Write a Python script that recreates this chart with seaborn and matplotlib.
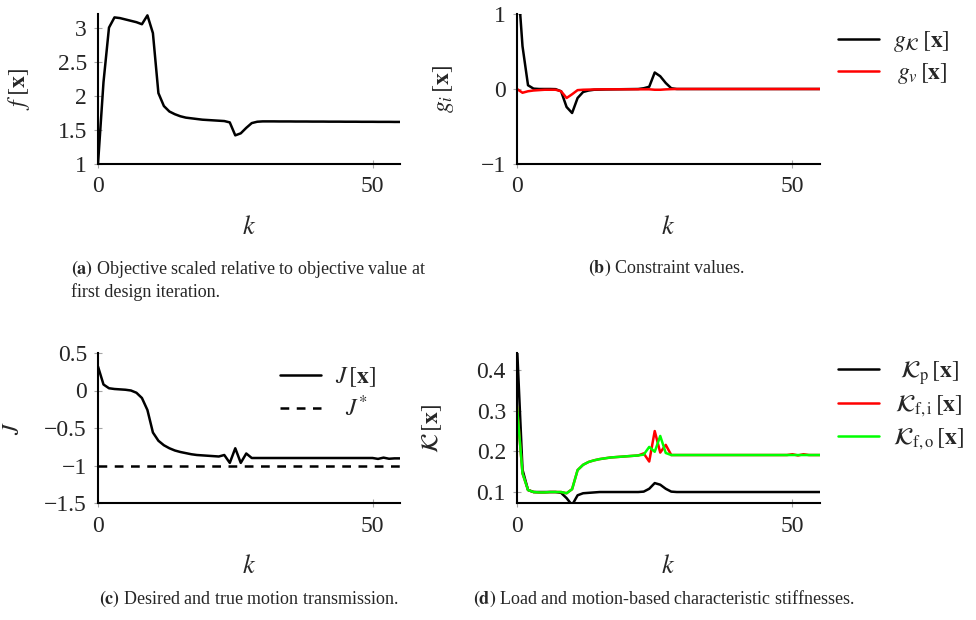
import matplotlib
matplotlib.use("Agg")
import matplotlib.pyplot as plt
import seaborn as sns
from matplotlib.ticker import FuncFormatter

# design iteration
K_ITER = list(range(56))

# (a) scaled objective
F_OBJ = [1.0, 2.2, 3.0, 3.15, 3.14, 3.12, 3.10, 3.08, 3.05, 3.18,
         2.92, 2.04, 1.85, 1.77, 1.73, 1.70, 1.68, 1.67, 1.66, 1.65,
         1.645, 1.64, 1.635, 1.63, 1.61, 1.42, 1.45, 1.53, 1.60, 1.62,
         1.625, 1.625, 1.625, 1.624, 1.624, 1.624, 1.623, 1.623, 1.623, 1.622,
         1.622, 1.622, 1.621, 1.621, 1.621, 1.620, 1.620, 1.620, 1.619, 1.619,
         1.619, 1.618, 1.618, 1.618, 1.617, 1.617]

# (b) constraints
G_K = [1.6, 0.57, 0.05, 0.005, 0.0, 0.0, 0.0, -0.002, -0.03, -0.24,
       -0.32, -0.12, -0.04, -0.02, -0.01, -0.008, -0.006, -0.005, -0.004, -0.003,
       -0.002, -0.001, 0.0, 0.01, 0.03, 0.22, 0.17, 0.08, 0.01, 0.0,
       0.0, 0.0, 0.0, 0.0, 0.0, 0.0, 0.0, 0.0, 0.0, 0.0,
       0.0, 0.0, 0.0, 0.0, 0.0, 0.0, 0.0, 0.0, 0.0, 0.0,
       0.0, 0.0, 0.0, 0.0, 0.0, 0.0]
G_V = [0.0, -0.05, -0.03, -0.02, -0.015, -0.01, -0.01, -0.01, -0.03, -0.12,
       -0.07, -0.015, -0.01, -0.008, -0.006, -0.005, -0.004, -0.004, -0.004, -0.004,
       -0.004, -0.004, -0.004, -0.004, -0.004, -0.01, -0.01, -0.005, -0.002, 0.0,
       0.0, 0.0, 0.0, 0.0, 0.0, 0.0, 0.0, 0.0, 0.0, 0.0,
       0.0, 0.0, 0.0, 0.0, 0.0, 0.0, 0.0, 0.0, 0.0, 0.0,
       0.0, 0.0, 0.0, 0.0, 0.0, 0.0]

# (c) motion transmission
J_TRUE = [0.32, 0.08, 0.03, 0.02, 0.015, 0.01, 0.0, -0.03, -0.1, -0.26,
          -0.56, -0.67, -0.73, -0.77, -0.80, -0.82, -0.835, -0.85, -0.86, -0.865,
          -0.87, -0.875, -0.88, -0.86, -0.965, -0.77, -0.965, -0.84, -0.90, -0.90,
          -0.90, -0.90, -0.90, -0.90, -0.90, -0.90, -0.90, -0.90, -0.90, -0.90,
          -0.90, -0.90, -0.90, -0.90, -0.90, -0.90, -0.90, -0.90, -0.90, -0.90,
          -0.90, -0.912, -0.895, -0.91, -0.905, -0.905]
J_STAR = -1.0

# (d) characteristic stiffnesses
K_P = [0.46, 0.155, 0.105, 0.100, 0.100, 0.100, 0.100, 0.100, 0.098, 0.085,
       0.068, 0.092, 0.097, 0.098, 0.099, 0.100, 0.100, 0.100, 0.100, 0.100,
       0.100, 0.100, 0.100, 0.101, 0.108, 0.122, 0.118, 0.108, 0.101, 0.100,
       0.100, 0.100, 0.100, 0.100, 0.100, 0.100, 0.100, 0.100, 0.100, 0.100,
       0.100, 0.100, 0.100, 0.100, 0.100, 0.100, 0.100, 0.100, 0.100, 0.100,
       0.100, 0.100, 0.100, 0.100, 0.100, 0.100]
K_FI = [0.31, 0.146, 0.105, 0.100, 0.099, 0.099, 0.100, 0.100, 0.100, 0.097,
        0.107, 0.154, 0.167, 0.174, 0.178, 0.181, 0.183, 0.185, 0.186, 0.187,
        0.188, 0.189, 0.190, 0.195, 0.175, 0.250, 0.197, 0.216, 0.191, 0.191,
        0.191, 0.191, 0.191, 0.191, 0.191, 0.191, 0.191, 0.191, 0.191, 0.191,
        0.191, 0.191, 0.191, 0.191, 0.191, 0.191, 0.191, 0.191, 0.191, 0.191,
        0.193, 0.190, 0.193, 0.191, 0.191, 0.191]
K_FO = [0.31, 0.146, 0.105, 0.100, 0.099, 0.099, 0.100, 0.100, 0.100, 0.097,
        0.107, 0.154, 0.167, 0.174, 0.178, 0.181, 0.183, 0.185, 0.186, 0.187,
        0.188, 0.189, 0.190, 0.192, 0.211, 0.199, 0.238, 0.196, 0.191, 0.191,
        0.191, 0.191, 0.191, 0.191, 0.191, 0.191, 0.191, 0.191, 0.191, 0.191,
        0.191, 0.191, 0.191, 0.191, 0.191, 0.191, 0.191, 0.191, 0.191, 0.191,
        0.191, 0.191, 0.191, 0.191, 0.191, 0.191]

LW = 1.8
FS = 17

sns.set_theme(style="white")
plt.rcParams["font.family"] = ["Liberation Serif", "DejaVu Serif"]
plt.rcParams["mathtext.fontset"] = "stix"
plt.rcParams["axes.linewidth"] = 1.5
plt.rcParams["axes.edgecolor"] = "black"

fig = plt.figure(figsize=(9.76, 6.2), dpi=100)
W, H = 976, 620


def make_ax(left, top, right, bottom):
    return fig.add_axes([left / W, (H - bottom) / H, (right - left) / W, (bottom - top) / H])


def style(ax, yticks, ylim, ylabel, ylab_x):
    ax.set_xlim(0, 55)
    ax.set_ylim(*ylim)
    ax.set_xticks([0, 50])
    ax.set_yticks(yticks)
    ax.yaxis.set_major_formatter(FuncFormatter(lambda v, p: f"{v:g}".replace("-", "\u2212")))
    ax.tick_params(direction="inout", length=6, width=0.8, color="0.65",
                   labelsize=FS, pad=5, left=True, bottom=True)
    ax.tick_params(axis="x", pad=6)
    sns.despine(ax=ax)
    ax.set_xlabel(r"$k$", fontsize=FS + 2, labelpad=13)
    ax.set_ylabel(ylabel, fontsize=FS)
    ax.yaxis.set_label_coords(ylab_x, 0.5)


def center_legend(leg):
    fig.canvas.draw()
    texts = leg.get_texts()
    widths = [t.get_window_extent().width for t in texts]
    wmax = max(widths)
    for t, w in zip(texts, widths):
        t.set_x((wmax - w) / 2)


leg_kw = dict(frameon=False, fontsize=FS, handlelength=1.75, handletextpad=0.6,
              borderpad=0, borderaxespad=0, labelspacing=0.3, loc="upper left")

# (a)
ax_a = make_ax(98, 14, 400, 164)
sns.lineplot(x=K_ITER, y=F_OBJ, ax=ax_a, color="black", lw=LW)
style(ax_a, [1, 1.5, 2, 2.5, 3], (1, 3.2), r"$f\;[\mathbf{x}]$", -0.22)

# (b)
ax_b = make_ax(517, 14, 820, 164)
sns.lineplot(x=K_ITER, y=G_K, ax=ax_b, color="black", lw=LW, label=r"$g_{\mathcal{K}}\,[\mathbf{x}]$")
sns.lineplot(x=K_ITER, y=G_V, ax=ax_b, color="red", lw=LW, label=r"$g_{v}\,[\mathbf{x}]$")
style(ax_b, [-1, 0, 1], (-1, 1), r"$g_i\,[\mathbf{x}]$", -0.2)
leg_b = ax_b.legend(bbox_to_anchor=((838 - 517) / 303, 0.9), **leg_kw)

# (c)
ax_c = make_ax(98, 353, 400, 503)
sns.lineplot(x=K_ITER, y=J_TRUE, ax=ax_c, color="black", lw=LW, label=r"$J\,[\mathbf{x}]$")
ax_c.axhline(J_STAR, color="black", lw=LW, ls=(0, (3.5, 3)), label=r"$J^{*}$")
style(ax_c, [-1.5, -1, -0.5, 0, 0.5], (-1.5, 0.5), r"$J$", -0.245)
leg_c = ax_c.legend(bbox_to_anchor=((280 - 98) / 302, 0.92), **leg_kw)

# (d)
ax_d = make_ax(517, 353, 820, 503)
sns.lineplot(x=K_ITER, y=K_P, ax=ax_d, color="black", lw=LW, label=r"$\mathcal{K}_{\mathrm{p}}\,[\mathbf{x}]$")
sns.lineplot(x=K_ITER, y=K_FI, ax=ax_d, color="#ff0000", lw=LW, label=r"$\mathcal{K}_{\mathrm{f,i}}\,[\mathbf{x}]$")
sns.lineplot(x=K_ITER, y=K_FO, ax=ax_d, color="#00ff00", lw=LW, label=r"$\mathcal{K}_{\mathrm{f,o}}\,[\mathbf{x}]$")
style(ax_d, [0.1, 0.2, 0.3, 0.4], (0.073, 0.442), r"$\mathcal{K}\,[\mathbf{x}]$", -0.24)
leg_d = ax_d.legend(bbox_to_anchor=((838 - 517) / 303, 0.96), **leg_kw)

# captions
CAP = 13
fig.text(249 / W, 1 - 258 / H,
         r"$\mathbf{(a)}$ Objective scaled relative to objective value at" + "\nfirst design iteration.",
         fontsize=CAP, ha="center", va="top", multialignment="left", linespacing=1.2)
fig.text(667 / W, 1 - 268 / H, r"$\mathbf{(b)}$ Constraint values.",
         fontsize=CAP, ha="center", va="center")
fig.text(249 / W, 1 - 599 / H, r"$\mathbf{(c)}$ Desired and true motion transmission.",
         fontsize=CAP, ha="center", va="center")
fig.text(664 / W, 1 - 599 / H, r"$\mathbf{(d)}$ Load and motion-based characteristic stiffnesses.",
         fontsize=CAP, ha="center", va="center")

for leg in (leg_b, leg_c, leg_d):
    center_legend(leg)

fig.savefig("out.png", dpi=100)
